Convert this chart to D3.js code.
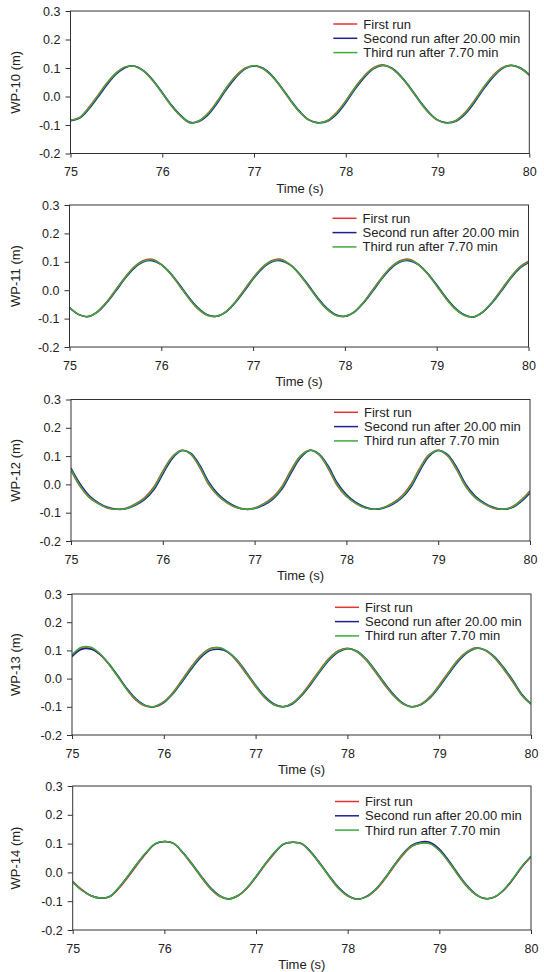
<!DOCTYPE html>
<html>
<head>
<meta charset="utf-8">
<script src="https://cdn.jsdelivr.net/npm/d3@7"></script>
<style>
  body { margin: 0; background: #fff; }
  svg { display: block; font-family: "Liberation Sans", Arial, Helvetica, sans-serif; }
</style>
</head>
<body>
<svg width="544" height="972"></svg>
<script>
const time = [75.0,75.1,75.2,75.3,75.4,75.5,75.6,75.7,75.8,75.9,
  76.0,76.1,76.2,76.3,76.4,76.5,76.6,76.7,76.8,76.9,
  77.0,77.1,77.2,77.3,77.4,77.5,77.6,77.7,77.8,77.9,
  78.0,78.1,78.2,78.3,78.4,78.5,78.6,78.7,78.8,78.9,
  79.0,79.1,79.2,79.3,79.4,79.5,79.6,79.7,79.8,79.9,80.0]

const gauges = ['WP-10', 'WP-11', 'WP-12', 'WP-13', 'WP-14']
const runs = ['First run', 'Second run after 20.00 min', 'Third run after 7.70 min']
const xTicks = [75, 76, 77, 78, 79, 80]
const yTicks = [-0.2, -0.1, 0.0, 0.1, 0.2, 0.3]

// WP-10
const wp10First = [-0.083,-0.073,-0.038,0.005,0.049,0.084,0.104,0.106,0.088,0.054,
  0.011,-0.033,-0.068,-0.092,-0.085,-0.058,-0.016,0.032,0.072,0.099,
  0.108,0.097,0.069,0.029,-0.016,-0.056,-0.083,-0.092,-0.084,-0.056,
  -0.015,0.032,0.072,0.100,0.111,0.099,0.069,0.029,-0.016,-0.056,
  -0.083,-0.092,-0.084,-0.056,-0.015,0.032,0.072,0.100,0.110,0.099,0.074]
const wp10Second = [-0.085,-0.076,-0.044,-0.002,0.042,0.079,0.102,0.106,0.090,0.057,
  0.014,-0.030,-0.066,-0.090,-0.088,-0.064,-0.023,0.025,0.066,0.096,
  0.107,0.099,0.072,0.032,-0.013,-0.053,-0.082,-0.092,-0.087,-0.062,
  -0.022,0.025,0.066,0.097,0.109,0.100,0.072,0.032,-0.013,-0.053,
  -0.082,-0.092,-0.087,-0.062,-0.022,0.025,0.066,0.097,0.109,0.101,0.077]
const wp10Third = [-0.083,-0.074,-0.040,0.003,0.047,0.083,0.104,0.106,0.089,0.055,
  0.012,-0.032,-0.068,-0.092,-0.086,-0.060,-0.018,0.030,0.070,0.098,
  0.108,0.098,0.070,0.030,-0.015,-0.055,-0.083,-0.093,-0.085,-0.058,
  -0.017,0.030,0.070,0.099,0.110,0.099,0.070,0.030,-0.015,-0.055,
  -0.083,-0.093,-0.085,-0.058,-0.017,0.030,0.070,0.099,0.110,0.100,0.075]

// WP-11
const wp11First = [-0.061,-0.085,-0.093,-0.076,-0.043,0.000,0.044,0.081,0.104,0.109,
  0.091,0.058,0.015,-0.029,-0.066,-0.088,-0.092,-0.076,-0.043,0.000,
  0.044,0.081,0.104,0.109,0.091,0.058,0.015,-0.029,-0.066,-0.088,
  -0.092,-0.076,-0.043,0.000,0.044,0.081,0.104,0.109,0.091,0.058,
  0.015,-0.029,-0.066,-0.088,-0.094,-0.076,-0.043,0.000,0.044,0.081,0.102]
const wp11Second = [-0.062,-0.086,-0.093,-0.078,-0.046,-0.005,0.039,0.076,0.099,0.104,
  0.090,0.060,0.019,-0.025,-0.062,-0.086,-0.092,-0.078,-0.046,-0.005,
  0.039,0.076,0.099,0.104,0.090,0.060,0.019,-0.025,-0.062,-0.086,
  -0.092,-0.078,-0.046,-0.005,0.039,0.076,0.099,0.104,0.090,0.060,
  0.019,-0.025,-0.062,-0.086,-0.094,-0.078,-0.046,-0.005,0.039,0.076,0.097]
const wp11Third = [-0.061,-0.085,-0.093,-0.077,-0.044,-0.002,0.042,0.079,0.102,0.107,
  0.090,0.058,0.016,-0.028,-0.065,-0.088,-0.092,-0.077,-0.044,-0.002,
  0.042,0.079,0.102,0.107,0.090,0.058,0.016,-0.028,-0.065,-0.088,
  -0.092,-0.077,-0.044,-0.002,0.042,0.079,0.102,0.107,0.090,0.058,
  0.016,-0.028,-0.065,-0.088,-0.094,-0.077,-0.044,-0.002,0.042,0.079,0.100]

// WP-12
const wp12First = [0.050,-0.008,-0.047,-0.069,-0.084,-0.088,-0.084,-0.069,-0.047,-0.010,
  0.047,0.097,0.120,0.108,0.061,-0.001,-0.040,-0.065,-0.082,-0.088,
  -0.083,-0.068,-0.045,-0.006,0.053,0.101,0.121,0.105,0.057,-0.004,
  -0.043,-0.067,-0.083,-0.088,-0.082,-0.066,-0.042,-0.001,0.058,0.105,
  0.121,0.101,0.052,-0.008,-0.047,-0.069,-0.084,-0.088,-0.080,-0.056,-0.022]
const wp12Second = [0.058,0.002,-0.040,-0.065,-0.081,-0.088,-0.086,-0.074,-0.054,-0.020,
  0.036,0.090,0.119,0.111,0.070,0.009,-0.033,-0.061,-0.079,-0.088,
  -0.085,-0.073,-0.052,-0.016,0.042,0.094,0.120,0.108,0.066,0.006,
  -0.036,-0.063,-0.080,-0.088,-0.084,-0.071,-0.049,-0.011,0.048,0.099,
  0.120,0.106,0.061,0.001,-0.040,-0.065,-0.081,-0.088,-0.083,-0.062,-0.030]
const wp12Third = [0.053,-0.005,-0.045,-0.068,-0.083,-0.088,-0.085,-0.071,-0.050,-0.014,
  0.043,0.095,0.120,0.109,0.064,0.003,-0.038,-0.064,-0.081,-0.088,
  -0.084,-0.070,-0.048,-0.010,0.049,0.099,0.121,0.106,0.060,-0.001,
  -0.041,-0.066,-0.082,-0.088,-0.083,-0.068,-0.045,-0.005,0.055,0.103,
  0.121,0.103,0.055,-0.005,-0.045,-0.068,-0.083,-0.088,-0.081,-0.058,-0.025]

// WP-13
const wp13First = [0.082,0.106,0.107,0.087,0.051,0.006,-0.040,-0.077,-0.097,-0.099,
  -0.082,-0.049,-0.004,0.042,0.082,0.106,0.109,0.093,0.060,0.016,
  -0.029,-0.068,-0.093,-0.100,-0.087,-0.056,-0.014,0.031,0.072,0.099,
  0.108,0.096,0.067,0.025,-0.020,-0.060,-0.089,-0.100,-0.091,-0.064,
  -0.023,0.022,0.065,0.095,0.109,0.100,0.074,0.034,-0.011,-0.060,-0.091]
const wp13Second = [0.078,0.103,0.105,0.088,0.054,0.010,-0.036,-0.073,-0.095,-0.100,
  -0.085,-0.054,-0.011,0.034,0.074,0.099,0.104,0.094,0.065,0.022,
  -0.023,-0.063,-0.090,-0.100,-0.090,-0.061,-0.021,0.024,0.065,0.094,
  0.106,0.098,0.071,0.031,-0.014,-0.055,-0.086,-0.100,-0.093,-0.069,
  -0.030,0.015,0.058,0.090,0.107,0.102,0.078,0.040,-0.005,-0.055,-0.089]
const wp13Third = [0.084,0.111,0.112,0.090,0.052,0.007,-0.039,-0.075,-0.096,-0.099,
  -0.083,-0.051,-0.007,0.039,0.079,0.104,0.110,0.095,0.063,0.019,
  -0.026,-0.066,-0.092,-0.100,-0.088,-0.058,-0.017,0.028,0.069,0.097,
  0.107,0.097,0.069,0.028,-0.017,-0.058,-0.088,-0.100,-0.092,-0.066,
  -0.026,0.019,0.062,0.093,0.108,0.101,0.076,0.037,-0.008,-0.058,-0.090]

// WP-14
const wp14First = [-0.031,-0.060,-0.081,-0.089,-0.085,-0.057,-0.018,0.025,0.066,0.099,
  0.107,0.101,0.068,0.027,-0.016,-0.056,-0.083,-0.092,-0.082,-0.056,
  -0.017,0.026,0.066,0.098,0.105,0.099,0.068,0.028,-0.016,-0.056,
  -0.082,-0.093,-0.086,-0.063,-0.026,0.018,0.059,0.090,0.102,0.100,
  0.076,0.037,-0.008,-0.049,-0.078,-0.091,-0.086,-0.063,-0.026,0.018,0.054]
const wp14Second = [-0.034,-0.062,-0.081,-0.089,-0.084,-0.054,-0.014,0.029,0.068,0.099,
  0.107,0.101,0.070,0.031,-0.012,-0.052,-0.080,-0.092,-0.081,-0.054,
  -0.014,0.029,0.068,0.098,0.105,0.100,0.071,0.031,-0.012,-0.052,
  -0.080,-0.093,-0.084,-0.060,-0.022,0.022,0.064,0.095,0.106,0.104,
  0.081,0.042,-0.003,-0.045,-0.076,-0.091,-0.086,-0.062,-0.024,0.020,0.056]
const wp14Third = [-0.033,-0.062,-0.081,-0.089,-0.084,-0.054,-0.014,0.029,0.069,0.100,
  0.107,0.101,0.069,0.029,-0.014,-0.054,-0.081,-0.092,-0.081,-0.054,
  -0.014,0.029,0.069,0.099,0.105,0.099,0.069,0.029,-0.014,-0.054,
  -0.081,-0.093,-0.085,-0.061,-0.023,0.021,0.062,0.092,0.101,0.099,
  0.076,0.038,-0.006,-0.047,-0.077,-0.091,-0.085,-0.061,-0.023,0.021,0.056]

const series = [
  [wp10First, wp10Second, wp10Third],
  [wp11First, wp11Second, wp11Third],
  [wp12First, wp12Second, wp12Third],
  [wp13First, wp13Second, wp13Third],
  [wp14First, wp14Second, wp14Third]
]

const colors = ['#e4342e', '#1f1f8f', '#3caa3c']

// plot boxes (the scan drifts a little from panel to panel)
const boxes = [
  { left: 70.5, right: 529.3, top: 11, bottom: 153.5, legend: 13 },
  { left: 69.5, right: 528.5, top: 205, bottom: 347, legend: 13.3 },
  { left: 71, right: 530, top: 399.5, bottom: 541, legend: 12.8 },
  { left: 72, right: 531, top: 594, bottom: 735, legend: 13.3 },
  { left: 72.7, right: 531, top: 786, bottom: 930, legend: 15.5 }
]

const svg = d3.select('svg')
const axisColor = '#333'

boxes.forEach((b, i) => {
  const x = d3.scaleLinear().domain([75, 80]).range([b.left, b.right])
  const y = d3.scaleLinear().domain([-0.2, 0.3]).range([b.bottom, b.top])

  const g = svg.append('g')

  g.append('clipPath').attr('id', 'clip' + i)
    .append('rect')
    .attr('x', b.left).attr('y', b.top)
    .attr('width', b.right - b.left).attr('height', b.bottom - b.top)

  const line = d3.line()
    .x((d, j) => x(time[j]))
    .y(d => y(d))
    .curve(d3.curveCatmullRom.alpha(0.5))

  series[i].forEach((vals, k) => {
    g.append('path')
      .attr('clip-path', 'url(#clip' + i + ')')
      .attr('d', line(vals))
      .attr('fill', 'none')
      .attr('stroke', colors[k])
      .attr('stroke-width', 1.5)
  })

  g.append('rect')
    .attr('x', b.left).attr('y', b.top)
    .attr('width', b.right - b.left).attr('height', b.bottom - b.top)
    .attr('fill', 'none')
    .attr('stroke', axisColor)
    .attr('stroke-width', 1)

  const yAxis = g.append('g')
    .attr('transform', `translate(${b.left},0)`)
    .call(d3.axisLeft(y).tickValues(yTicks).tickFormat(d => d.toFixed(1))
      .tickSize(5).tickPadding(5).tickSizeOuter(0))
  const xAxis = g.append('g')
    .attr('transform', `translate(0,${b.bottom})`)
    .call(d3.axisBottom(x).tickValues(xTicks).tickFormat(d => d)
      .tickSize(4).tickPadding(10).tickSizeOuter(0))

  for (const ax of [yAxis, xAxis]) {
    ax.select('.domain').remove()
    ax.selectAll('line').attr('stroke', axisColor)
    ax.selectAll('text')
      .attr('fill', '#222')
      .style('font-size', '12.5px')
      .style('font-family', '"Liberation Sans", Arial, sans-serif')
  }

  g.append('text')
    .attr('x', (b.left + b.right) / 2)
    .attr('y', b.bottom + 39)
    .attr('text-anchor', 'middle')
    .attr('fill', '#222')
    .style('font-size', '13px')
    .text('Time (s)')

  g.append('text')
    .attr('transform', `translate(20,${(b.top + b.bottom) / 2}) rotate(-90)`)
    .attr('text-anchor', 'middle')
    .attr('fill', '#222')
    .style('font-size', '13px')
    .text(gauges[i] + ' (m)')

  const legend = g.append('g')
    .attr('transform', `translate(${b.right - 196},${b.top + b.legend})`)
  runs.forEach((name, k) => {
    const row = legend.append('g').attr('transform', `translate(0,${k * 14.3})`)
    row.append('line')
      .attr('x1', 0).attr('x2', 24)
      .attr('stroke', colors[k])
      .attr('stroke-width', 1.5)
    row.append('text')
      .attr('x', 30)
      .attr('dy', '0.35em')
      .attr('fill', '#222')
      .style('font-size', '13px')
      .text(name)
  })
})
</script>
</body>
</html>
